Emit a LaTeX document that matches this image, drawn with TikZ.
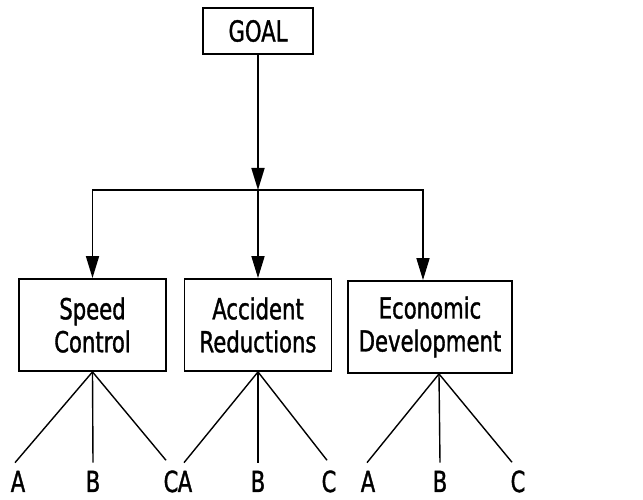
\documentclass[tikz,border=0pt]{standalone}
\usepackage{fontspec}
\newfontfamily\diafont[FakeStretch=0.73,FakeBold=1.2]{DejaVu Sans}
\usetikzlibrary{arrows.meta}
\begin{document}
\begin{tikzpicture}[x=1pt,y=1pt,
  every node/.style={font=\diafont\fontsize{29pt}{33pt}\selectfont},
  boxnode/.style={draw,line width=1.8pt,align=center,inner sep=0pt},
  leaf/.style={inner sep=0pt,anchor=base},
  arr/.style={line width=1.7pt,-{Triangle[length=22pt,width=13pt]}},
  fan/.style={line width=1.4pt}]
\useasboundingbox (0,0) rectangle (643,500);
\node[boxnode,minimum width=110pt,minimum height=46pt] (goal) at (258,469) {GOAL};
\coordinate (j) at (258,310);
\node[boxnode,minimum width=147pt,minimum height=92pt] (sc) at (92.5,175) {Speed\\Control};
\node[boxnode,minimum width=147pt,minimum height=92pt] (ar) at (258,175) {Accident\\Reductions};
\node[boxnode,minimum width=164pt,minimum height=92pt] (ed) at (430,173) {Economic\\Development};
\draw[arr] (goal.south) -- (j);
\draw[arr] (j) -| (sc.north);
\draw[arr] (j) -- (ar.north);
\draw[arr] (j) -| ([xshift=-7pt]ed.north);
% leaves
\node[leaf] (a1) at (18,8) {A};
\node[leaf] (b1) at (93,8) {B};
\node[leaf] (c1) at (171,8) {C};
\node[leaf] (a2) at (185,8) {A};
\node[leaf] (b2) at (258,8) {B};
\node[leaf] (c2) at (329,8) {C};
\node[leaf] (a3) at (368,8) {A};
\node[leaf] (b3) at (440,8) {B};
\node[leaf] (c3) at (518,8) {C};
\draw[fan] (sc.south) -- ([xshift=-3pt,yshift=8pt]a1.north);
\draw[fan] (sc.south) -- ([yshift=8pt]b1.north);
\draw[fan] (sc.south) -- ([xshift=-5pt,yshift=10pt]c1.north);
\draw[fan] (ar.south) -- ([xshift=-1pt,yshift=8pt]a2.north);
\draw[fan] (ar.south) -- ([yshift=8pt]b2.north);
\draw[fan] (ar.south) -- ([xshift=-2pt,yshift=10pt]c2.north);
\draw[fan] ([xshift=9pt]ed.south) -- ([xshift=-1pt,yshift=8pt]a3.north);
\draw[fan] ([xshift=9pt]ed.south) -- ([yshift=8pt]b3.north);
\draw[fan] ([xshift=9pt]ed.south) -- ([xshift=-6pt,yshift=8pt]c3.north);
\end{tikzpicture}
\end{document}
